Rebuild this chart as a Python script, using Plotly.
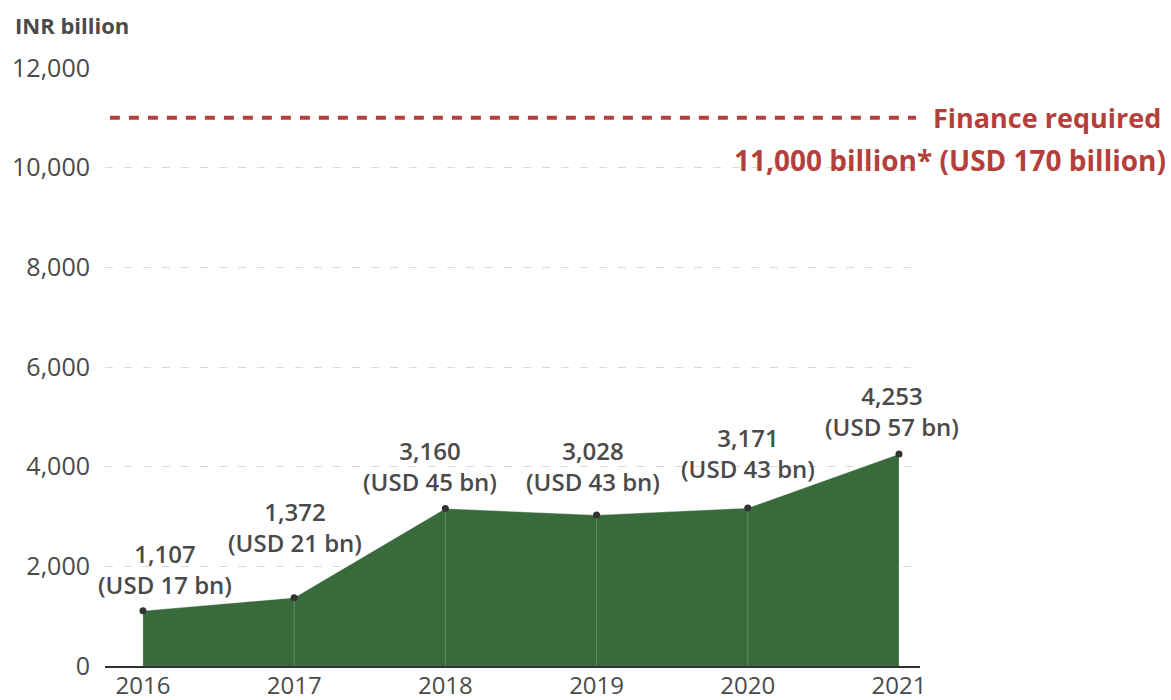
import plotly.graph_objects as go

# ---- data ----
years = [2016, 2017, 2018, 2019, 2020, 2021]
inr_billion = [1107, 1372, 3160, 3028, 3171, 4253]
usd_billion = [17, 21, 45, 43, 43, 57]
finance_required_inr = 11000
finance_required_usd = 170
y_ticks = [0, 2000, 4000, 6000, 8000, 10000, 12000]

# ---- styles ----
FONT = "Open Sans"
GREEN = "#386a3b"
RED = "#b53f3a"
TEXT = "#4a4a4a"

# label pixel offsets (x, y) relative to each point
label_xshift = [22, 1, -15, -4, 0, -7]
label_yshift = [42, 71, 43, 49, 55, 43]

fig = go.Figure()

# area
fig.add_trace(go.Scatter(
    x=years, y=inr_billion, mode="lines", fill="tozeroy",
    fillcolor=GREEN, line=dict(color="rgba(255,255,255,0.35)", width=1),
    hoverinfo="skip", showlegend=False))

# thin vertical separators at each year
vx, vy = [], []
for x, v in zip(years, inr_billion):
    vx += [x, x, None]
    vy += [0, v, None]
fig.add_trace(go.Scatter(
    x=vx, y=vy, mode="lines",
    line=dict(color="rgba(255,255,255,0.22)", width=1),
    hoverinfo="skip", showlegend=False))

# point markers
fig.add_trace(go.Scatter(
    x=years, y=inr_billion, mode="markers",
    marker=dict(color="#333333", size=7),
    hoverinfo="skip", showlegend=False))

# finance required line
fig.add_shape(type="line", xref="paper", yref="y",
              x0=0.006, x1=0.995, y0=finance_required_inr, y1=finance_required_inr,
              line=dict(color=RED, width=4, dash="10px,9px"))

annotations = []
for x, v, u, xs, ys in zip(years, inr_billion, usd_billion, label_xshift, label_yshift):
    annotations.append(dict(
        x=x, y=v, xref="x", yref="y",
        text=f"{v:,}<br>(USD {u} bn)",
        showarrow=False, xanchor="center", yanchor="middle",
        xshift=xs, yshift=ys, align="center",
        font=dict(family=FONT, size=24, color=TEXT, weight=600)))

annotations.append(dict(
    x=1.2985, y=finance_required_inr, xref="paper", yref="y",
    text="Finance required", showarrow=False,
    xanchor="right", yanchor="middle",
    font=dict(family=FONT, size=27, color=RED, weight=700)))
annotations.append(dict(
    x=1.3043, y=finance_required_inr, xref="paper", yref="y", yshift=-42,
    text=f"{finance_required_inr:,} billion* (USD {finance_required_usd} billion)",
    showarrow=False, xanchor="right", yanchor="middle",
    font=dict(family=FONT, size=28, color=RED, weight=700)))

annotations.append(dict(
    x=-0.1129, y=1.0719, xref="paper", yref="paper",
    text="INR billion", showarrow=False,
    xanchor="left", yanchor="middle",
    font=dict(family=FONT, size=22, color=TEXT, weight=700)))

fig.update_layout(
    width=1171, height=700,
    margin=dict(l=105, r=251, t=68, b=34),
    paper_bgcolor="white", plot_bgcolor="white",
    font=dict(family=FONT, color=TEXT),
    annotations=annotations,
    xaxis=dict(
        range=[2015.749, 2021.139], tickvals=years, ticktext=[str(y) for y in years],
        showgrid=False, zeroline=False, showline=True, linecolor="#333333", linewidth=1.5,
        ticks="", automargin=False, ticklabelstandoff=-3,
        tickfont=dict(family=FONT, size=24, color=TEXT)),
    yaxis=dict(
        range=[0, 12000], tickvals=y_ticks, tickformat=",",
        showgrid=True, gridcolor="#d9d9d9", gridwidth=1, griddash="8px,11px",
        zeroline=False, showline=False, ticks="", automargin=False,
        ticklabelstandoff=14,
        tickfont=dict(family=FONT, size=25, color=TEXT)),
)

fig.write_html("out.html")
